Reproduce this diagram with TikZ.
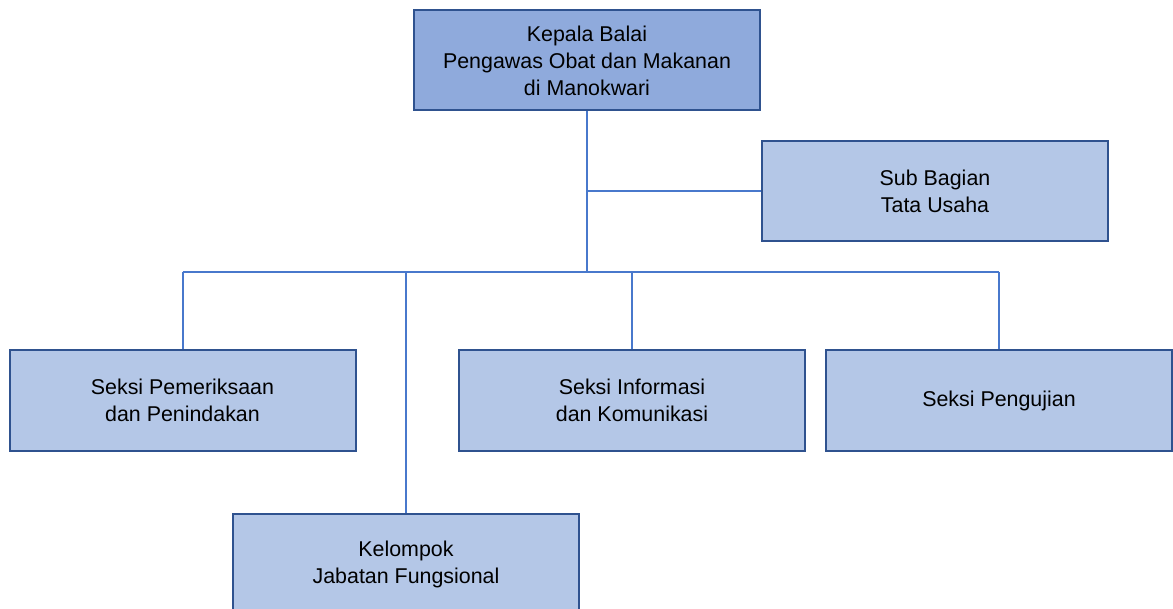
\documentclass[tikz,border=0pt]{standalone}
\usepackage{fontspec}
\setmainfont{Liberation Sans}
\usetikzlibrary{backgrounds}

\definecolor{boxedge}{RGB}{47,82,143}
\definecolor{headfill}{RGB}{143,170,220}
\definecolor{unitfill}{RGB}{180,199,231}
\definecolor{linkblue}{RGB}{72,120,204}

\tikzset{
  unit/.style={draw=boxedge, line width=1pt, fill=unitfill, minimum width=173pt, minimum height=50pt, align=center, inner sep=0pt, font=\fontsize{10.7}{13.5}\selectfont},
  head/.style={unit, fill=headfill},
  link/.style={draw=linkblue, line width=1pt}
}

\begin{document}
\begin{tikzpicture}[x=0.5pt,y=-0.5pt]
\useasboundingbox (0,0) rectangle (1173,609);
% boxes
\node[head] (kepala) at (587,60.5) {Kepala Balai\\Pengawas Obat dan Makanan\\di Manokwari};
\node[unit] (tu) at (935,191.5) {Sub Bagian\\Tata Usaha};
\node[unit] (periksa) at (182.5,400.5) {Seksi Pemeriksaan\\dan Penindakan};
\node[unit] (info) at (632,400.5) {Seksi Informasi\\dan Komunikasi};
\node[unit] (uji) at (999,400.5) {Seksi Pengujian};
\node[unit] (jafung) at (406,564) {Kelompok\\Jabatan Fungsional};
\coordinate (bar) at (587,272);
% links
\begin{scope}[on background layer]
\draw[link] (kepala.south) -- (bar);
\draw[link] (kepala.south |- tu.west) -- (tu.west);
\draw[link] (periksa.north |- bar) -- (uji.north |- bar);
\draw[link] (periksa.north |- bar) -- (periksa.north);
\draw[link] (jafung.north |- bar) -- (jafung.north);
\draw[link] (info.north |- bar) -- (info.north);
\draw[link] (uji.north |- bar) -- (uji.north);
\end{scope}
\end{tikzpicture}
\end{document}
